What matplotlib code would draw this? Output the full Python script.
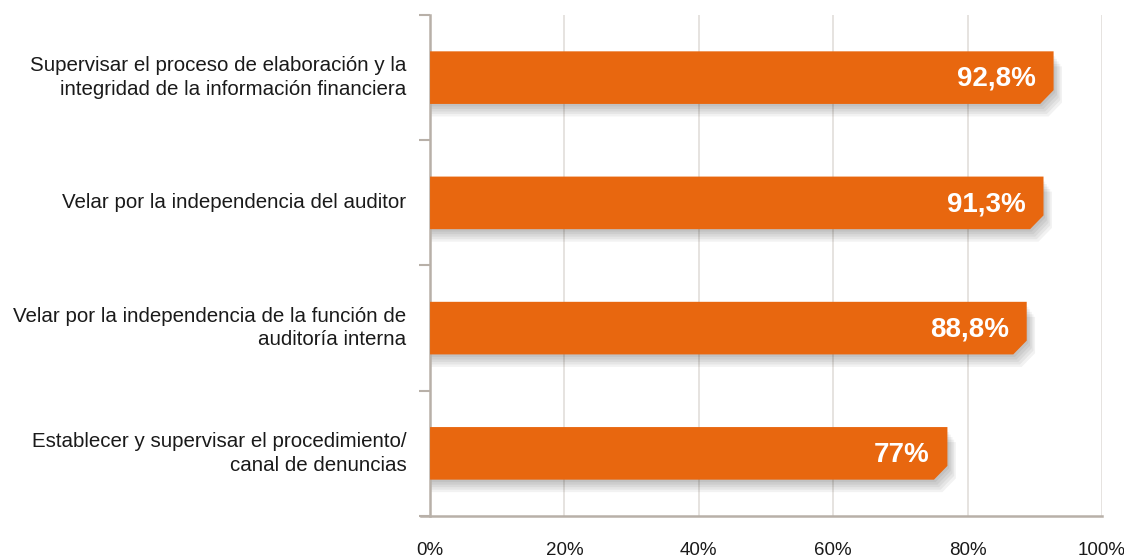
import matplotlib
matplotlib.use("Agg")
import matplotlib.pyplot as plt
from matplotlib.patches import Polygon
import matplotlib.transforms as mtransforms

categories = [
    "Supervisar el proceso de elaboración y la\nintegridad de la información financiera",
    "Velar por la independencia del auditor",
    "Velar por la independencia de la función de\nauditoría interna",
    "Establecer y supervisar el procedimiento/\ncanal de denuncias",
]
values = [92.8, 91.3, 88.8, 77.0]
value_labels = ["92,8%", "91,3%", "88,8%", "77%"]
xticks = [0, 20, 40, 60, 80, 100]
xtick_labels = ["0%", "20%", "40%", "60%", "80%", "100%"]

plt.rcParams['font.family'] = ['Liberation Sans', 'DejaVu Sans']

ORANGE = "#E8670F"
SPINE = "#B8B0A8"
GRID = "#E2DEDA"

fig = plt.figure(figsize=(11.24, 5.58), dpi=100)
ax = fig.add_axes([0.3826, 0.0753, 0.5978, 0.8978])

ax.set_xlim(0, 100)
ax.set_ylim(len(categories) - 0.5, -0.5)

h = 0.42
bev_x = 2.0
bev_y = 0.11
for i, v in enumerate(values):
    top = i - h / 2
    bot = i + h / 2
    # soft shadow
    for k in range(5):
        dx = 0.25 + 0.25 * k
        dy = 0.02 + 0.02 * k
        sh = Polygon([(0, top + dy + 0.02), (v + dx, top + dy + 0.02), (v + dx, bot - bev_y + dy),
                      (v - bev_x + dx, bot + dy), (0, bot + dy)],
                     closed=True, facecolor="black", edgecolor="none", alpha=0.05, zorder=2)
        ax.add_patch(sh)
    poly = Polygon([(0, top), (v, top), (v, bot - bev_y), (v - bev_x, bot), (0, bot)],
                   closed=True, facecolor=ORANGE, edgecolor="none", zorder=3)
    ax.add_patch(poly)
    ax.text(v - 2.6, i + 0.01, value_labels[i], ha="right", va="center", color="white",
            fontsize=20, fontweight="bold", zorder=4)

# category labels
trans = mtransforms.blended_transform_factory(ax.transAxes, ax.transData)
for i, c in enumerate(categories):
    ax.text(-0.035, i, c, transform=trans, ha="right", va="center", fontsize=14.8,
            color="#1a1a1a", linespacing=1.3)

ax.set_xticks(xticks)
ax.set_xticklabels(xtick_labels, fontsize=13.5, color="#1a1a1a")
ax.tick_params(axis="x", length=0, pad=19)
ax.set_yticks([i - 0.5 for i in range(len(categories) + 1)])
ax.set_yticklabels([])
ax.tick_params(axis="y", length=8, width=1.5, color=SPINE, direction="out")

ax.xaxis.grid(True, color=GRID, linewidth=1.2, zorder=0)
ax.set_axisbelow(True)
for s in ["top", "right"]:
    ax.spines[s].set_visible(False)
ax.spines["left"].set_color(SPINE)
ax.spines["left"].set_linewidth(1.8)
ax.spines["bottom"].set_color(SPINE)
ax.spines["bottom"].set_linewidth(1.8)
ax.spines["bottom"].set_bounds(-1.3, 100)
ax.spines["bottom"].set_clip_on(False)

fig.savefig("out.png", dpi=100)
